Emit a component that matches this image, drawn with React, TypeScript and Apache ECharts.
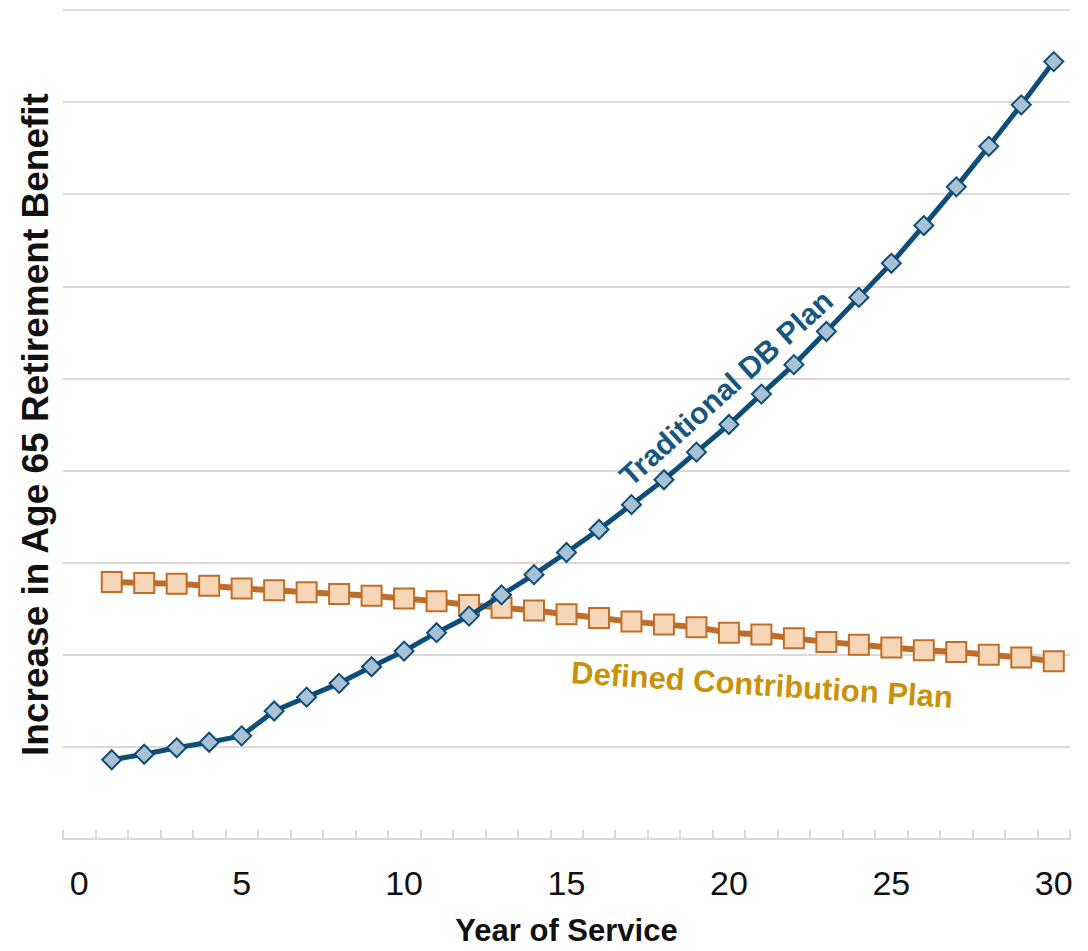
import React, { useEffect, useRef } from "react";
import * as echarts from "echarts";

const categories: string[] = Array.from({ length: 31 }, (_, i) => String(i));
const years: number[] = [1,2,3,4,5,6,7,8,9,10,11,12,13,14,15,16,17,18,19,20,21,22,23,24,25,26,27,28,29,30];
const dbPlan: number[] = [0.86,0.92,0.99,1.05,1.12,1.39,1.54,1.69,1.87,2.04,2.24,2.42,2.65,2.87,3.11,3.36,3.63,3.90,4.20,4.50,4.83,5.15,5.51,5.88,6.25,6.66,7.08,7.52,7.97,8.44];
const dcPlan: number[] = [2.79,2.78,2.77,2.75,2.72,2.70,2.68,2.66,2.64,2.61,2.58,2.54,2.51,2.48,2.44,2.40,2.36,2.33,2.30,2.24,2.22,2.18,2.14,2.11,2.08,2.05,2.03,2.00,1.97,1.93];
const xTitle = "Year of Service";
const yTitle = "Increase in Age 65 Retirement Benefit";
const dbLabel = "Traditional DB Plan";
const dcLabel = "Defined Contribution Plan";

export default function App() {
  const ref = useRef<HTMLDivElement>(null);
  useEffect(() => {
    if (!ref.current) return;
    const chart = echarts.init(ref.current, null, { renderer: "svg" });
    const font = "'Liberation Sans', Arial, sans-serif";
    chart.setOption({
      animation: false,
      backgroundColor: "#ffffff",
      grid: { left: 63, right: 18, top: 10, bottom: 106, containLabel: false },
      xAxis: {
        type: "category",
        data: categories,
        boundaryGap: true,
        name: xTitle,
        nameLocation: "middle",
        nameGap: 76,
        nameTextStyle: { fontFamily: font, fontSize: 31, fontWeight: "bold", color: "#111" },
        axisLine: { show: true, lineStyle: { color: "#d9d9d9", width: 2 } },
        axisTick: { show: true, inside: true, length: 9, interval: 0, lineStyle: { color: "#d9d9d9", width: 2 } },
        axisLabel: { interval: 4, fontFamily: font, fontSize: 34, color: "#111", margin: 27 },
        splitLine: { show: false },
      },
      yAxis: {
        type: "value",
        min: 0,
        max: 9,
        interval: 1,
        name: yTitle,
        nameLocation: "middle",
        nameRotate: 90,
        nameGap: 9,
        nameTextStyle: { fontFamily: font, fontSize: 37, fontWeight: "bold", color: "#111" },
        axisLine: { show: false },
        axisTick: { show: false },
        axisLabel: { show: false },
        splitLine: { show: true, lineStyle: { color: "#d9d9d9", width: 2 } },
      },
      series: [
        {
          name: dcLabel,
          type: "line",
          data: years.map((y, i) => [String(y), dcPlan[i]]),
          symbol: "rect",
          symbolSize: 20,
          lineStyle: { color: "#BF6E2A", width: 6 },
          itemStyle: { color: "#F6D6B7", borderColor: "#BF6E2A", borderWidth: 2 },
          z: 2,
        },
        {
          name: dbLabel,
          type: "line",
          data: years.map((y, i) => [String(y), dbPlan[i]]),
          symbol: "diamond",
          symbolSize: 19,
          lineStyle: { color: "#0E4D78", width: 5 },
          itemStyle: { color: "#A9C1D4", borderColor: "#0E4D78", borderWidth: 2 },
          z: 3,
        },
      ],
      graphic: [
        {
          type: "text",
          x: 726,
          y: 388,
          rotation: (42 * Math.PI) / 180,
          style: {
            text: dbLabel,
            fontFamily: font,
            fontSize: 30,
            fontWeight: "bold",
            fill: "#17577F",
            textAlign: "center",
            textVerticalAlign: "middle",
          },
          z: 10,
        },
        {
          type: "text",
          x: 762,
          y: 685,
          rotation: (-3.7 * Math.PI) / 180,
          style: {
            text: dcLabel,
            fontFamily: font,
            fontSize: 31,
            fontWeight: "bold",
            fill: "#C99209",
            textAlign: "center",
            textVerticalAlign: "middle",
          },
          z: 10,
        },
      ],
    });
    return () => chart.dispose();
  }, []);
  return <div ref={ref} style={{ width: 1088, height: 951, position: "absolute", left: 0, top: 0 }} />;
}
